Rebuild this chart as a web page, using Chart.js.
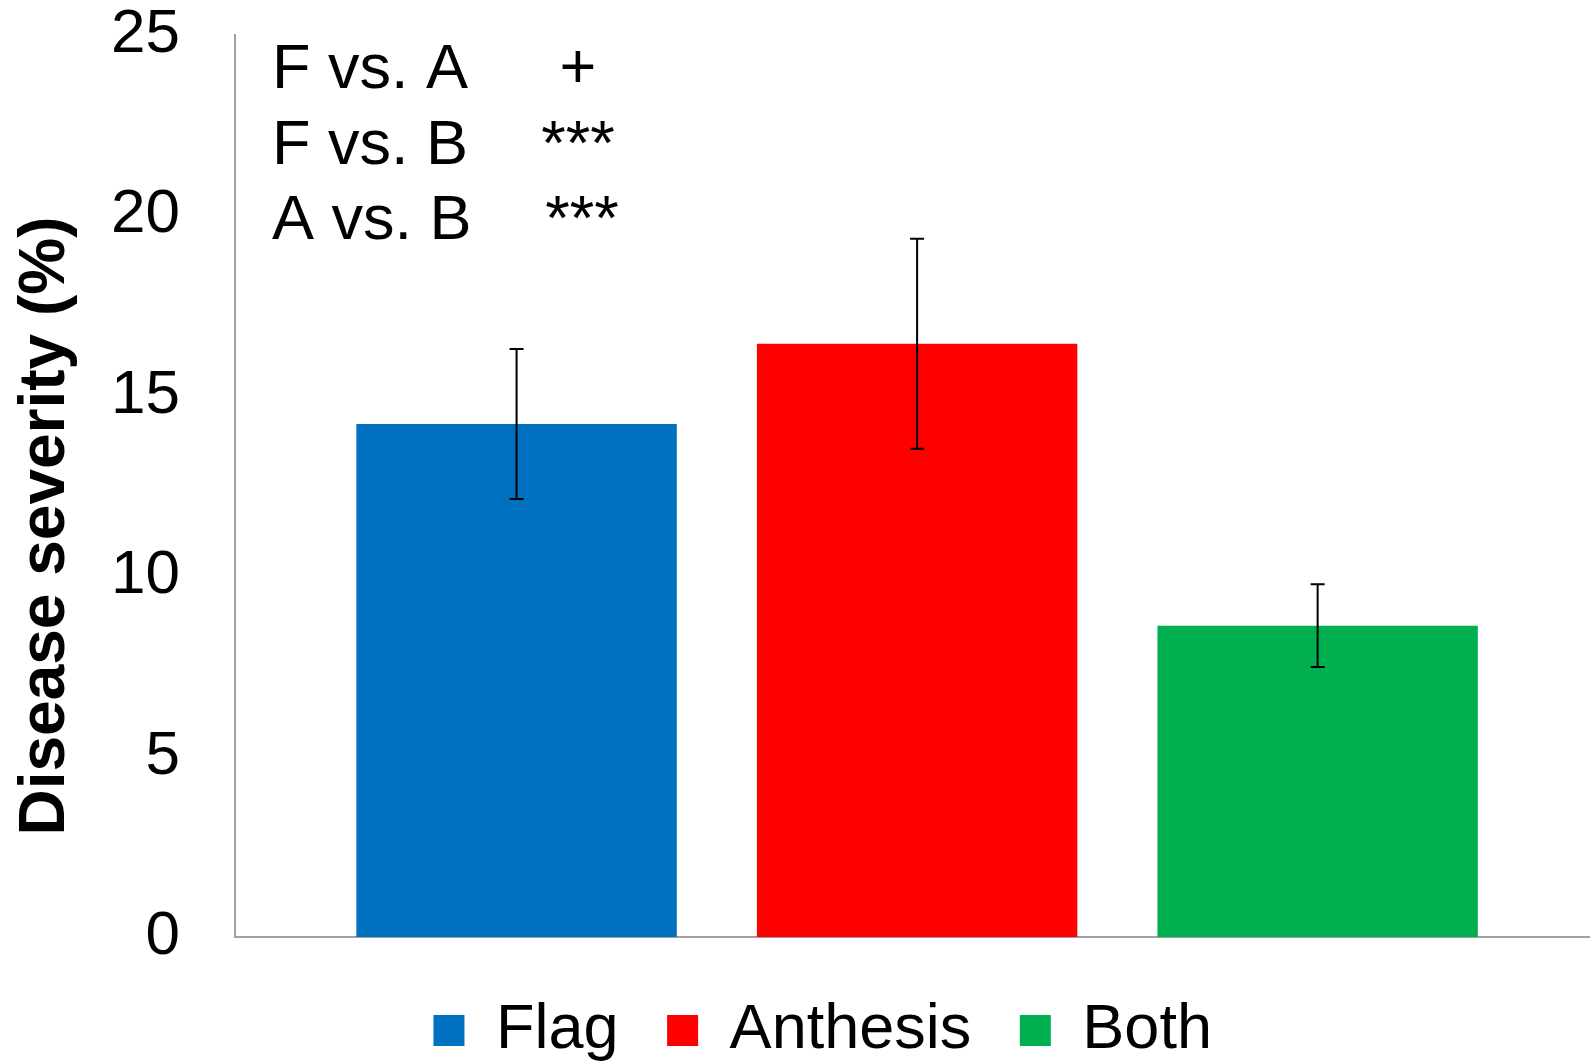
<!DOCTYPE html>
<html>
<head>
<meta charset="utf-8">
<script src="https://cdn.jsdelivr.net/npm/chart.js@4.4.1/dist/chart.umd.min.js"></script>
<style>
  body { margin: 0; background: #fff; }
  #wrap { width: 1590px; height: 1062px; position: relative; }
</style>
</head>
<body>
<div id="wrap"><canvas id="barChart"></canvas></div>
<script>
var categories = ['Flag', 'Anthesis', 'Both'];
var means = [14.22, 16.44, 8.63];
var errors = [2.08, 2.91, 1.15];
var barColors = ['#0070C0', '#FF0000', '#00B050'];
var yTicks = [0, 5, 10, 15, 20, 25];
var compLabels = ['F vs. A', 'F vs. B', 'A vs. B'];
var compSig = ['+', '***', '***'];
var yTitle = 'Disease severity (%)';

var fontFamily = "'Liberation Sans', Arial, sans-serif";
var axisGray = '#A0A0A0';

// error bars drawn through the scales
var errorBars = {
  id: 'errorBars',
  afterDatasetsDraw: function(chart) {
    var ctx = chart.ctx, x = chart.scales.x, y = chart.scales.y;
    ctx.save();
    ctx.strokeStyle = '#000';
    ctx.lineWidth = 2;
    means.forEach(function(m, i) {
      var px = x.getPixelForValue(i);
      var top = y.getPixelForValue(m + errors[i]);
      var bot = y.getPixelForValue(m - errors[i]);
      ctx.beginPath();
      ctx.moveTo(px, top); ctx.lineTo(px, bot);
      ctx.moveTo(px - 7, top); ctx.lineTo(px + 7, top);
      ctx.moveTo(px - 7, bot); ctx.lineTo(px + 7, bot);
      ctx.stroke();
    });
    ctx.restore();
  }
};

// comparison notes + rotated y title
var notes = {
  id: 'notes',
  afterDraw: function(chart) {
    var ctx = chart.ctx, a = chart.chartArea;
    ctx.save();
    ctx.fillStyle = '#000';
    ctx.font = '63px ' + fontFamily;
    ctx.textBaseline = 'alphabetic';
    compLabels.forEach(function(t, i) {
      var by = a.top + 53 + i * 75.5;
      ctx.textAlign = 'left';
      ctx.fillText(t, a.left + 37, by);
      ctx.textAlign = 'center';
      ctx.fillText(compSig[i], a.left + 343 + (i == 2 ? 4 : 0), by);
    });
    ctx.translate(46, (a.top + a.bottom) / 2 + 40);
    ctx.rotate(-Math.PI / 2);
    ctx.font = 'bold 64px ' + fontFamily;
    ctx.textAlign = 'center';
    ctx.textBaseline = 'middle';
    ctx.fillText(yTitle, 0, 0);
    ctx.restore();
  }
};

var ctx = document.getElementById('barChart').getContext('2d');
new Chart(ctx, {
  type: 'bar',
  data: {
    datasets: [{
      data: categories.map(function(c, i) { return {x: i, y: means[i]}; }),
      backgroundColor: barColors,
      borderWidth: 0,
      categoryPercentage: 1,
      barPercentage: 0.8
    }]
  },
  options: {
    responsive: true,
    maintainAspectRatio: false,
    animation: false,
    layout: { padding: { left: 55.4, top: 35, right: 0, bottom: -10 } },
    plugins: {
      tooltip: { enabled: false },
      legend: {
        position: 'bottom',
        labels: {
          font: { family: fontFamily, size: 63 },
          color: '#000',
          boxWidth: 31,
          boxHeight: 31,
          padding: 48.6,
          generateLabels: function() {
            return categories.map(function(c, i) {
              return { text: c, fillStyle: barColors[i], strokeStyle: barColors[i], lineWidth: 0, hidden: false, index: i };
            });
          }
        }
      }
    },
    scales: {
      x: {
        type: 'linear',
        min: -0.703,
        max: 2.68,
        offset: false,
        afterBuildTicks: function(s) { s.ticks = categories.map(function(c, i) { return {value: i}; }); },
        grid: { display: false },
        ticks: { display: false },
        border: { color: axisGray, width: 2 },
        afterFit: function(s) { s.height = 13.4; }
      },
      y: {
        min: 0,
        max: 25,
        afterBuildTicks: function(s) { s.ticks = yTicks.map(function(v) { return {value: v}; }); },
        grid: { display: false },
        border: { color: axisGray, width: 2 },
        ticks: {
          color: '#000',
          padding: 47,
          font: { family: fontFamily, size: 62, lineHeight: 1 }
        },
        afterFit: function(s) {
          s.width = 179.6;
          s.paddingTop = 0;
          s.paddingBottom = 0;
        }
      }
    }
  },
  plugins: [errorBars, notes]
});
</script>
</body>
</html>
